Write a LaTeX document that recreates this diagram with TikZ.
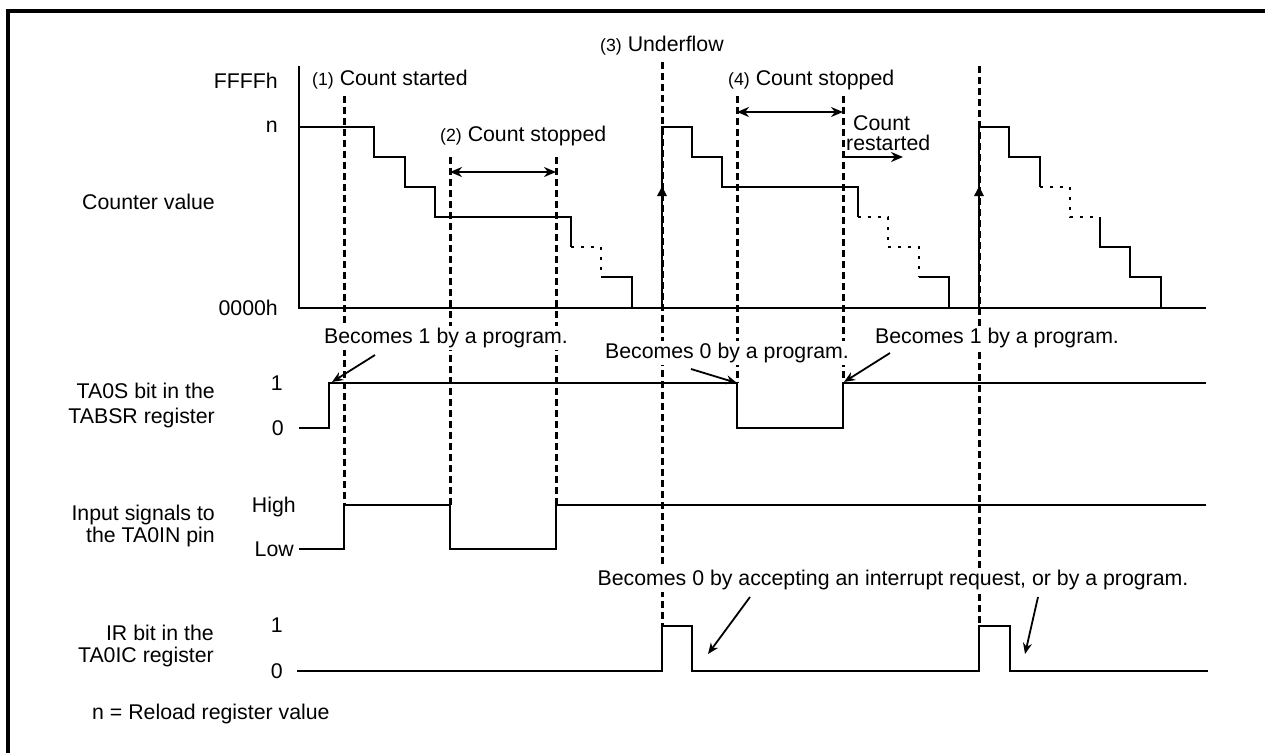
\documentclass[tikz,border=0pt]{standalone}
\usepackage{fontspec}
\setmainfont{Liberation Sans}
\usetikzlibrary{arrows.meta}
\begin{document}
\begin{tikzpicture}[x=1pt,y=-1pt,
  wave/.style={line width=2pt, line join=miter},
  axisline/.style={line width=2.5pt},
  dline/.style={line width=3pt, dash pattern=on 7pt off 4pt},
  dotline/.style={line width=2.5pt, dash pattern=on 2.5pt off 7.5pt},
  lbl/.style={font=\fontsize{21.3}{23}\selectfont, inner sep=0pt},
  note/.style={lbl, fill=white, inner sep=2pt},
  ann/.style={line width=1.8pt, -{Stealth[length=11pt,width=9pt]}},
  spanarrow/.style={line width=2pt, {Stealth[length=12pt,width=10pt]}-{Stealth[length=12pt,width=10pt]}},
  uparrow/.style={line width=2.5pt, -{Triangle[length=10pt,width=9pt]}},
]
\useasboundingbox (0,0) rectangle (1265,753);
% frame
\draw[line width=3.5pt] (8,753) -- (8,11) -- (1265,11);

% dashed event lines
\draw[dline] (344,96) -- (344,505);
\draw[dline] (450,157) -- (450,505);
\draw[dline] (556,157) -- (556,505);
\draw[dline] (662,62) -- (662,626);
\draw[dline] (737,96) -- (737,383);
\draw[dline] (843,96) -- (843,383);
\draw[dline] (979,66) -- (979,626);

% axes of counter
\draw[axisline] (299,66) -- (299,308) -- (1206,308);

% counter waveform 1
\draw[wave] (299,127) -- (374,127) -- (374,157) -- (405,157) -- (405,187) -- (435,187) -- (435,217) -- (571,217) -- (571,247);
\draw[dotline] (571,247) -- (601,247) -- (601,277);
\draw[wave] (601,277) -- (632,277) -- (632,308);

% counter waveform 2
\draw[uparrow] (662,308) -- (662,186);
\draw[wave] (662,192) -- (662,127) -- (692,127) -- (692,157) -- (722,157) -- (722,187) -- (858,187) -- (858,217);
\draw[dotline] (858,217) -- (888,217) -- (888,247) -- (919,247) -- (919,277);
\draw[wave] (919,277) -- (949,277) -- (949,308);

% counter waveform 3
\draw[uparrow] (979,308) -- (979,186);
\draw[wave] (979,192) -- (979,127) -- (1009,127) -- (1009,157) -- (1040,157) -- (1040,187);
\draw[dotline] (1040,187) -- (1070,187) -- (1070,217) -- (1100,217);
\draw[wave] (1100,217) -- (1100,247) -- (1130,247) -- (1130,277) -- (1161,277) -- (1161,308);

% TA0S
\draw[wave] (299,428) -- (329,428) -- (329,383) -- (737,383) -- (737,428) -- (843,428) -- (843,383) -- (1206,383);
% TA0IN
\draw[wave] (299,549) -- (344,549) -- (344,505) -- (450,505) -- (450,549) -- (556,549) -- (556,505) -- (1206,505);
% IR
\draw[wave] (297,671) -- (662,671) -- (662,626) -- (692,626) -- (692,671) -- (979,671) -- (979,626) -- (1010,626) -- (1010,671) -- (1208,671);

% span arrows
\coordinate (s2a) at (450,172); \coordinate (s2b) at (556,172);
\coordinate (s4a) at (737,112); \coordinate (s4b) at (843,112);
\draw[spanarrow] (s2a) -- (s2b);
\draw[spanarrow] (s4a) -- (s4b);
\coordinate (rs) at (843,157); \coordinate (re) at (903,157);
\draw[line width=2pt, -{Stealth[length=12pt,width=10pt]}] (rs) -- (re);

% left labels
\node[lbl, anchor=east] (ffff) at (278,81) {FFFFh};
\node[lbl, anchor=east] (nval) at (278,127) {n};
\node[lbl, anchor=east] (zero) at (278,308) {0000h};
\node[lbl, anchor=east] (cv) at (215,202) {Counter value};
\node[lbl, anchor=east, align=right, font=\fontsize{21.3}{25}\selectfont] (tas) at (215,405) {TA0S bit in the\\TABSR register};
\node[lbl, anchor=east] (tas1) at (283,383) {1};
\node[lbl, anchor=east] (tas0) at (284,428) {0};
\node[lbl, anchor=east, align=right, font=\fontsize{21.3}{21.5}\selectfont] (tin) at (215,526) {Input signals to\\the TA0IN pin};
\node[lbl, anchor=east] (hi) at (296,507) {High};
\node[lbl, anchor=east] (lo) at (294,549) {Low};
\node[lbl, anchor=east, align=right, font=\fontsize{21.3}{22}\selectfont] (ir) at (214,646) {IR bit in the\\TA0IC register};
\node[lbl, anchor=east] (ir1) at (283,625) {1};
\node[lbl, anchor=east] (ir0) at (283,671) {0};
\node[lbl, anchor=west] (foot) at (92,714) {n = Reload register value};

% event labels
\node[lbl, anchor=west] (e1) at (312,80) {{\fontsize{17.7}{17.7}\selectfont(1)} Count started};
\node[lbl, anchor=west] (e2) at (440,136) {{\fontsize{17.7}{17.7}\selectfont(2)} Count stopped};
\node[lbl, anchor=west] (e3) at (600,46) {{\fontsize{17.7}{17.7}\selectfont(3)} Underflow};
\node[lbl, anchor=west] (e4) at (728,80) {{\fontsize{17.7}{17.7}\selectfont(4)} Count stopped};
\node[lbl, anchor=west] (cr1) at (853,123) {Count};
\node[lbl, anchor=west] (cr2) at (846,143) {restarted};

% notes with white background
\node[note] (b1) at (446,338) {Becomes 1 by a program.};
\node[note] (b0) at (727,353) {Becomes 0 by a program.};
\node[note] (b1b) at (997,338) {Becomes 1 by a program.};
\node[note] (bir) at (893,580) {Becomes 0 by accepting an interrupt request, or by a program.};

% annotation arrows
\coordinate (t1) at (332,382); \coordinate (f1) at (375,355);
\coordinate (t2) at (737,383); \coordinate (f2) at (691,369);
\coordinate (t3) at (844,382); \coordinate (f3) at (890,353);
\coordinate (t4) at (708,654); \coordinate (f4) at (750,597);
\coordinate (t5) at (1025,654); \coordinate (f5) at (1038,597);
\draw[ann] (f1) -- (t1);
\draw[ann] (f2) -- (t2);
\draw[ann] (f3) -- (t3);
\draw[ann] (f4) -- (t4);
\draw[ann] (f5) -- (t5);
\end{tikzpicture}
\end{document}
